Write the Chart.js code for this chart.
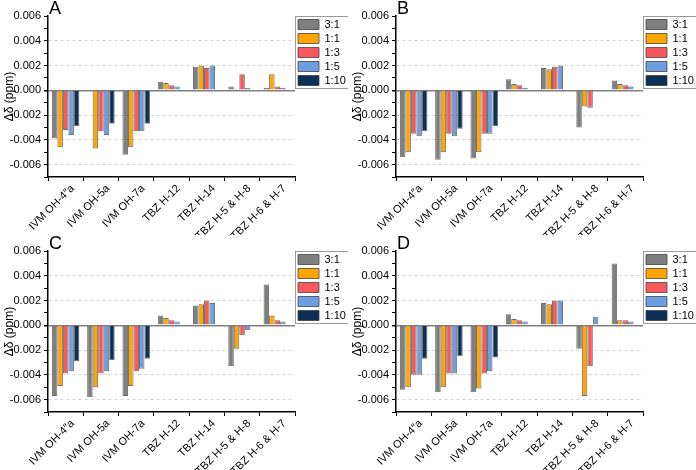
<!DOCTYPE html>
<html>
<head>
<meta charset="utf-8">
<script src="https://cdn.jsdelivr.net/npm/chart.js@4.4.1/dist/chart.umd.min.js"></script>
<style>
html, body { margin: 0; padding: 0; background: #fff; }
#wrap { display: grid; grid-template-columns: 348px 348px; grid-template-rows: 235px 235px; width: 696px; height: 470px; }
.panel { position: relative; width: 348px; height: 235px; }
.panel canvas { display: block; }
.tag { position: absolute; top: -2px; left: 49px; font: 18px "Liberation Sans", Arial, sans-serif; color: #000; }
</style>
</head>
<body>
<div id="wrap">
    <div class="panel"><canvas id="chartA" width="348" height="235"></canvas><div class="tag">A</div></div>
    <div class="panel"><canvas id="chartB" width="348" height="235"></canvas><div class="tag">B</div></div>
    <div class="panel"><canvas id="chartC" width="348" height="235"></canvas><div class="tag">C</div></div>
    <div class="panel"><canvas id="chartD" width="348" height="235"></canvas><div class="tag">D</div></div>
</div>
<script>
// categories and ratios
const categories = ['IVM OH-4\u2033a', 'IVM OH-5a', 'IVM OH-7a', 'TBZ H-12', 'TBZ H-14', 'TBZ H-5 & H-8', 'TBZ H-6 & H-7'];
const ratios = ['3:1', '1:1', '1:3', '1:5', '1:10'];
const colors = ['#7f7f7f', '#ffa500', '#f6585d', '#6e9ee0', '#0b2f55'];

// Δδ values (ppm), one row per ratio
const panelA = [
    [-0.0039, null, -0.0052, 0.0007, 0.0019, 0.0003, 0.0002],
    [-0.0046, -0.0047, -0.0046, 0.0006, 0.0020, 0.0001, 0.0013],
    [-0.0032, -0.0033, -0.0033, 0.0004, 0.0018, 0.0013, 0.0003],
    [-0.0036, -0.0036, -0.0033, 0.0003, 0.0020, 0.0002, 0.0002],
    [-0.0029, -0.0027, -0.0027, null, null, null, null]
];
const panelB = [
    [-0.0054, -0.0056, -0.0055, 0.0009, 0.0018, -0.0030, 0.0008],
    [-0.0050, -0.0050, -0.0050, 0.0005, 0.0017, -0.0013, 0.0005],
    [-0.0035, -0.0035, -0.0035, 0.0004, 0.0019, -0.0014, 0.0004],
    [-0.0037, -0.0037, -0.0035, 0.0002, 0.0020, null, 0.0003],
    [-0.0033, -0.0031, -0.0029, null, null, null, null]
];
const panelC = [
    [-0.0057, -0.0058, -0.0057, 0.0008, 0.0016, -0.0033, 0.0033],
    [-0.0049, -0.0050, -0.0049, 0.0006, 0.0017, -0.0019, 0.0008],
    [-0.0039, -0.0039, -0.0037, 0.0004, 0.0020, -0.0008, 0.0004],
    [-0.0037, -0.0037, -0.0035, 0.0003, 0.0018, -0.0004, 0.0003],
    [-0.0029, -0.0028, -0.0027, null, null, null, null]
];
const panelD = [
    [-0.0052, -0.0054, -0.0054, 0.0009, 0.0018, -0.0019, 0.0050],
    [-0.0050, -0.0050, -0.0051, 0.0005, 0.0017, -0.0057, 0.0004],
    [-0.0040, -0.0039, -0.0039, 0.0004, 0.0020, -0.0033, 0.0004],
    [-0.0040, -0.0039, -0.0037, 0.0003, 0.0020, 0.0007, 0.0003],
    [-0.0027, -0.0025, -0.0026, null, null, null, null]
];

const yMin = -0.007;
const yMax = 0.006;
const fontFamily = '"Liberation Sans", Arial, sans-serif';

// рамка вокруг легенды
const legendBox = {
    id: 'legendBox',
    afterDraw(chart) {
        const boxes = chart.legend.legendHitBoxes;
        if (!boxes || !boxes.length) return;
        let l = Infinity, t = Infinity, r = -Infinity, b = -Infinity;
        boxes.forEach(h => {
            l = Math.min(l, h.left); t = Math.min(t, h.top);
            r = Math.max(r, h.left + h.width); b = Math.max(b, h.top + h.height);
        });
        const ctx = chart.ctx;
        ctx.save();
        ctx.strokeStyle = '#9a9a9a';
        ctx.lineWidth = 1;
        ctx.strokeRect(Math.round(l - 3) + 0.5, Math.round(t - 3) + 0.5, Math.round(r - l + 5), Math.round(b - t + 5));
        ctx.restore();
    }
};

const makeChart = (id, rows) => {
    const ctx = document.getElementById(id).getContext('2d');
    return new Chart(ctx, {
        type: 'bar',
        data: {
            labels: categories,
            datasets: ratios.map((r, i) => ({
                label: r,
                data: rows[i],
                backgroundColor: colors[i],
                borderColor: 'rgba(60,60,60,0.75)',
                borderWidth: 1,
                barPercentage: 1.0,
                categoryPercentage: 0.78
            }))
        },
        options: {
            responsive: false,
            animation: false,
            layout: { padding: { top: 16, right: 2, left: 2, bottom: 0 } },
            plugins: {
                legend: {
                    position: 'right',
                    align: 'start',
                    maxWidth: 51,
                    labels: {
                        boxWidth: 21,
                        boxHeight: 10,
                        padding: 3,
                        color: '#000',
                        font: { family: fontFamily, size: 11 }
                    }
                },
                tooltip: { enabled: false }
            },
            scales: {
                x: {
                    afterFit: s => { s.height = 58; },
                    grid: {
                        offset: true,
                        color: 'transparent',
                        tickColor: '#000',
                        tickLength: 4
                    },
                    border: { color: '#000', width: 1.5 },
                    ticks: {
                        autoSkip: false,
                        minRotation: 45,
                        maxRotation: 45,
                        labelOffset: 7,
                        padding: 1,
                        color: '#000',
                        font: { family: fontFamily, size: 11 }
                    }
                },
                y: {
                    min: yMin,
                    max: yMax,
                    afterFit: s => { s.width = 46; },
                    ticks: {
                        stepSize: 0.001,
                        autoSkip: false,
                        padding: 3,
                        color: '#000',
                        font: { family: fontFamily, size: 11 },
                        callback: v => (Math.round(v * 1000) % 2 === 0 ? v.toFixed(3) : '')
                    },
                    grid: {
                        color: c => {
                            const k = Math.round(c.tick.value * 1000);
                            if (k === 0) return '#808080';
                            if (k % 2 === 0 && k !== 6) return '#d4d4d4';
                            return 'transparent';
                        },
                        lineWidth: c => (Math.round(c.tick.value * 1000) === 0 ? 1.5 : 1),
                        tickColor: '#000',
                        tickLength: 4
                    },
                    border: {
                        color: '#000',
                        width: 1.5,
                        dash: c => (c.tick && Math.round(c.tick.value * 1000) !== 0 ? [3, 3] : [])
                    },
                    title: {
                        display: true,
                        text: 'Δδ (ppm)',
                        color: '#000',
                        padding: 0,
                        font: { family: fontFamily, size: 12 }
                    }
                }
            }
        },
        plugins: [legendBox]
    });
};

const chartA = makeChart('chartA', panelA);
const chartB = makeChart('chartB', panelB);
const chartC = makeChart('chartC', panelC);
const chartD = makeChart('chartD', panelD);
</script>
</body>
</html>
